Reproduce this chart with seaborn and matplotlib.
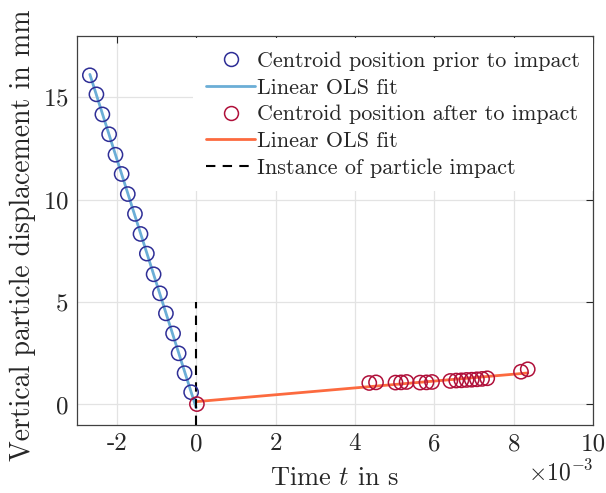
import numpy as np
import pandas as pd
import matplotlib
matplotlib.use("Agg")
import matplotlib.pyplot as plt
from matplotlib.lines import Line2D
from matplotlib.ticker import ScalarFormatter, MultipleLocator
import seaborn as sns

# ---- data (time in ms, displacement in mm) ----
t_prior_ms = [-2.675, -2.51, -2.36, -2.19, -2.03, -1.875, -1.72, -1.54, -1.40,
              -1.24, -1.07, -0.91, -0.76, -0.58, -0.44, -0.29, -0.125]
y_prior = [16.08, 15.15, 14.17, 13.20, 12.20, 11.26, 10.28, 9.31, 8.33,
           7.37, 6.36, 5.43, 4.45, 3.47, 2.50, 1.53, 0.60]

t_after_ms = [0.02, 4.36, 4.53, 5.02, 5.16, 5.30, 5.64, 5.80, 5.94, 6.40, 6.55,
              6.68, 6.81, 6.94, 7.07, 7.20, 7.33, 8.18, 8.35]
y_after = [0.02, 1.05, 1.08, 1.07, 1.08, 1.10, 1.07, 1.08, 1.10, 1.15, 1.17,
           1.18, 1.20, 1.21, 1.23, 1.25, 1.28, 1.60, 1.72]

t_impact_ms = 0.0
impact_marker_y = [-1.0, 5.0]

labels = ["Centroid position prior to impact", "Linear OLS fit",
          "Centroid position after to impact", "Linear OLS fit",
          "Instance of particle impact"]

# ---- style ----
sns.set_theme(style="white")
plt.rcParams["font.family"] = ["cmr10", "DejaVu Serif"]
plt.rcParams["mathtext.fontset"] = "cm"
plt.rcParams["axes.unicode_minus"] = False
plt.rcParams["axes.formatter.use_mathtext"] = True

c_blue_pts = "#2e2e96"
c_red_pts = "#b0103a"
c_blue_line = "#6baed6"
c_red_line = "#fc6a3f"


class MilliFormatter(ScalarFormatter):
    def _set_order_of_magnitude(self):
        self.orderOfMagnitude = -3

    def _set_format(self):
        self.format = "%d"


fig = plt.figure(figsize=(6.06, 4.93), dpi=100)
ax = fig.add_axes([0.127, 0.138, 0.852, 0.789])

tp = np.array(t_prior_ms) * 1e-3
ta = np.array(t_after_ms) * 1e-3
yp = np.array(y_prior)
ya = np.array(y_after)

# OLS fits
bp = np.polyfit(tp, yp, 1)
ba = np.polyfit(ta, ya, 1)
fit_p = pd.DataFrame({"t": [tp.min(), t_impact_ms * 1e-3]})
fit_p["y"] = np.polyval(bp, fit_p["t"])
fit_a = pd.DataFrame({"t": [ta.min(), ta.max()]})
fit_a["y"] = np.polyval(ba, fit_a["t"])

ax.grid(True, color="#e3e3e3", linewidth=0.9, zorder=0)
ax.set_axisbelow(True)

sns.lineplot(data=fit_p, x="t", y="y", color=c_blue_line, linewidth=2.0, ax=ax, zorder=2)
sns.lineplot(data=fit_a, x="t", y="y", color=c_red_line, linewidth=2.0, ax=ax, zorder=2)
imp = pd.DataFrame({"t": [t_impact_ms * 1e-3] * 2, "y": impact_marker_y})
ax.plot(imp["t"], imp["y"], color="black", linestyle=(0, (4.5, 3.5)), linewidth=1.5, zorder=3)

sns.scatterplot(x=tp, y=yp, marker="o", s=105, facecolors="none",
                edgecolor=c_blue_pts, linewidth=1.1, ax=ax, zorder=4)
sns.scatterplot(x=ta, y=ya, marker="o", s=105, facecolors="none",
                edgecolor=c_red_pts, linewidth=1.1, ax=ax, zorder=4)

ax.set_xlim(-3e-3, 10e-3)
ax.set_ylim(-1, 18)
ax.xaxis.set_major_locator(MultipleLocator(2e-3))
ax.yaxis.set_major_locator(MultipleLocator(5))
ax.xaxis.set_major_formatter(MilliFormatter(useMathText=True))

ax.tick_params(axis="both", which="both", direction="in", top=True, right=True,
               length=5, width=0.8, colors="#262626", labelsize=18, pad=6)
ax.xaxis.get_offset_text().set_fontsize(17)
for sp in ax.spines.values():
    sp.set_color("#404040")
    sp.set_linewidth(0.9)

ax.set_xlabel("Time $t$ in s", fontsize=19, color="#262626", labelpad=8)
ax.set_ylabel("Vertical particle displacement in mm", fontsize=20, color="#262626")
ax.yaxis.set_label_coords(-0.08, 0.488)

handles = [
    Line2D([], [], linestyle="none", marker="o", markersize=10, markerfacecolor="none",
           markeredgecolor=c_blue_pts, markeredgewidth=1.1),
    Line2D([], [], color=c_blue_line, linewidth=2.0),
    Line2D([], [], linestyle="none", marker="o", markersize=10, markerfacecolor="none",
           markeredgecolor=c_red_pts, markeredgewidth=1.1),
    Line2D([], [], color=c_red_line, linewidth=2.0),
    Line2D([], [], color="black", linestyle=(0, (4.5, 3.5)), linewidth=1.5),
]
leg = ax.legend(handles, labels, loc="upper right", bbox_to_anchor=(1.0, 0.995),
                fontsize=15.9, frameon=True, facecolor="white", edgecolor="none",
                framealpha=1.0, handlelength=2.2, handletextpad=0.1,
                labelspacing=0.33, borderaxespad=0.0, borderpad=0.6, fancybox=False)
for txt in leg.get_texts():
    txt.set_color("#262626")

fig.savefig("out.png", dpi=100)
